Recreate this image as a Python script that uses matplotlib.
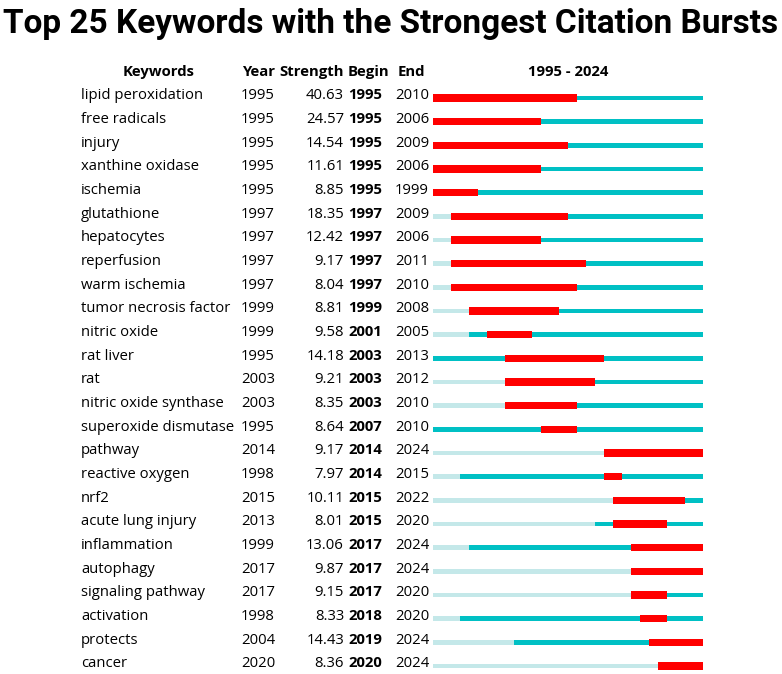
import matplotlib.pyplot as plt
import matplotlib.transforms as mtransforms

# burst table data
keywords = ['lipid peroxidation', 'free radicals', 'injury', 'xanthine oxidase', 'ischemia',
            'glutathione', 'hepatocytes', 'reperfusion', 'warm ischemia', 'tumor necrosis factor',
            'nitric oxide', 'rat liver', 'rat', 'nitric oxide synthase', 'superoxide dismutase',
            'pathway', 'reactive oxygen', 'nrf2', 'acute lung injury', 'inflammation',
            'autophagy', 'signaling pathway', 'activation', 'protects', 'cancer']
years = [1995, 1995, 1995, 1995, 1995, 1997, 1997, 1997, 1997, 1999, 1999, 1995, 2003, 2003, 1995,
         2014, 1998, 2015, 2013, 1999, 2017, 2017, 1998, 2004, 2020]
strength = [40.63, 24.57, 14.54, 11.61, 8.85, 18.35, 12.42, 9.17, 8.04, 8.81, 9.58, 14.18, 9.21,
            8.35, 8.64, 9.17, 7.97, 10.11, 8.01, 13.06, 9.87, 9.15, 8.33, 14.43, 8.36]
begin = [1995, 1995, 1995, 1995, 1995, 1997, 1997, 1997, 1997, 1999, 2001, 2003, 2003, 2003, 2007,
         2014, 2014, 2015, 2015, 2017, 2017, 2017, 2018, 2019, 2020]
end = [2010, 2006, 2009, 2006, 1999, 2009, 2006, 2011, 2010, 2008, 2005, 2013, 2012, 2010, 2010,
       2024, 2015, 2022, 2020, 2024, 2024, 2020, 2020, 2024, 2024]
first_year, last_year = 1995, 2024

W, H = 782, 674
fig = plt.figure(figsize=(W / 100, H / 100), dpi=100)

# bar area in pixels: x 433..703, rows centred at 98 .. 666
row_gap = (666 - 98) / 24
top_px = 98 - 0.5 * row_gap
bot_px = 666 + 0.3 * row_gap
ax = fig.add_axes([433 / W, 1 - bot_px / H, 270 / W, (bot_px - top_px) / H])
ax.set_xlim(first_year, last_year + 1)
ax.set_ylim(24.3, -0.5)
ax.axis('off')

light = '#c4e8e9'
teal = '#00c0c4'
red = '#ff0000'
for i in range(len(keywords)):
    if years[i] > first_year:
        ax.barh(i, years[i] - first_year, left=first_year, height=0.19, color=light, linewidth=0)
    ax.barh(i, last_year + 1 - years[i], left=years[i], height=0.19, color=teal, linewidth=0)
    ax.barh(i, end[i] + 1 - begin[i], left=begin[i], height=0.3, color=red, linewidth=0)

# text columns: x in figure pixels, y in row units
tr = mtransforms.blended_transform_factory(fig.transFigure, ax.transData)
font = 'Open Sans'
fs = 10.7
hy = -0.93
ax.text(159 / W, hy, 'Keywords', transform=tr, ha='center', va='baseline', fontsize=fs,
        fontweight='bold', family=font)
ax.text(242 / W, hy, 'Year', transform=tr, ha='left', va='baseline', fontsize=fs,
        fontweight='bold', family=font)
ax.text(279 / W, hy, 'Strength', transform=tr, ha='left', va='baseline', fontsize=fs,
        fontweight='bold', family=font)
ax.text(348 / W, hy, 'Begin', transform=tr, ha='left', va='baseline', fontsize=fs,
        fontweight='bold', family=font)
ax.text(398 / W, hy, 'End', transform=tr, ha='left', va='baseline', fontsize=fs,
        fontweight='bold', family=font)
ax.text(568 / W, hy, f'{first_year} - {last_year}', transform=tr, ha='center', va='baseline',
        fontsize=fs, fontweight='bold', family=font)

for i in range(len(keywords)):
    y = i + 0.05
    ax.text(81 / W, y, keywords[i], transform=tr, ha='left', va='baseline', fontsize=fs, family=font)
    ax.text(241 / W, y, str(years[i]), transform=tr, ha='left', va='baseline', fontsize=fs, family=font)
    ax.text(344 / W, y, f'{strength[i]:.2f}', transform=tr, ha='right', va='baseline', fontsize=fs,
            family=font)
    ax.text(348 / W, y, str(begin[i]), transform=tr, ha='left', va='baseline', fontsize=fs,
            fontweight='bold', family=font)
    ax.text(395 / W, y, str(end[i]), transform=tr, ha='left', va='baseline', fontsize=fs, family=font)

# title: shrink to fit the width of the figure
title = fig.text(0.5, 1 - 33 / H, 'Top 25 Keywords with the Strongest Citation Bursts', ha='center',
                 va='baseline', fontsize=30, fontweight='bold', family='Roboto')
renderer = fig.canvas.get_renderer()
tw = title.get_window_extent(renderer).width
title.set_fontsize(30 * 776 / tw)

fig.savefig('out.png', dpi=100)
